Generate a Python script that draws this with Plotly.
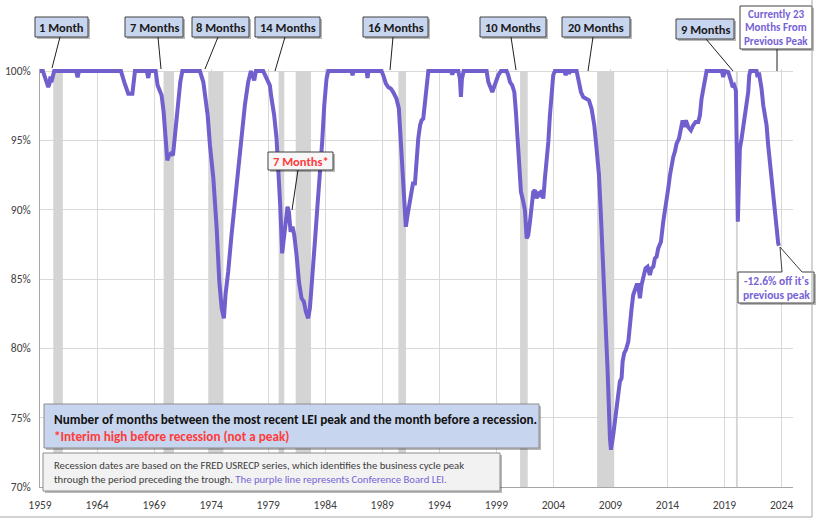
import plotly.graph_objects as go
from datetime import datetime, timedelta

# ---------------- data ----------------
# LEI as % of its previous peak, x in decimal years
lei_year = [
    1959.08, 1959.34, 1959.5, 1959.65, 1959.81, 1959.92, 1960.0, 1960.08, 1960.2, 1960.33,
    1962.25, 1962.38, 1962.5,
    1966.18, 1966.47, 1966.68, 1966.82, 1967.18, 1967.3, 1967.41,
    1968.45, 1968.57, 1968.68,
    1969.22, 1969.39, 1969.58, 1969.74, 1969.92, 1970.09, 1970.24, 1970.39, 1970.56, 1970.74,
    1970.91, 1971.15, 1971.38, 1971.56,
    1973.1, 1973.4, 1973.6, 1973.78, 1973.98, 1974.28, 1974.57, 1974.8, 1975.01, 1975.2,
    1975.36, 1975.58, 1975.87, 1976.17, 1976.46, 1976.75, 1977.04, 1977.33, 1977.57,
    1977.86, 1978.01, 1978.65, 1978.85, 1979.03, 1979.23, 1979.38, 1979.61, 1979.82, 1979.96,
    1980.14, 1980.31, 1980.49, 1980.64, 1980.78, 1980.9, 1981.05, 1981.22, 1981.37, 1981.57,
    1981.78, 1982.01, 1982.21, 1982.39, 1982.59, 1982.74, 1982.94, 1983.18, 1983.41, 1983.62,
    1983.82, 1984.0, 1984.2, 1984.35,
    1986.39, 1986.48, 1986.57, 1987.71, 1987.79, 1987.88,
    1989.02, 1989.17, 1989.4, 1989.6, 1989.84, 1990.04, 1990.33, 1990.54, 1990.71, 1990.86,
    1991.01, 1991.15, 1991.3, 1991.45, 1991.59, 1991.8, 1991.94,
    1992.1, 1992.24, 1992.4, 1992.53, 1992.68, 1992.83, 1992.97, 1993.12,
    1995.1, 1995.22, 1995.35, 1995.75, 1995.89, 1995.98, 1996.07, 1996.22,
    1998.23, 1998.38, 1998.73, 1998.96, 1999.25, 1999.49,
    1999.98, 2000.13, 2000.28, 2000.48, 2000.66, 2000.8, 2000.95, 2001.09, 2001.24, 2001.45,
    2001.59, 2001.74, 2001.88, 2002.03, 2002.17, 2002.32, 2002.47, 2002.61, 2002.76, 2002.91,
    2003.05, 2003.2, 2003.34, 2003.49, 2003.64, 2003.78, 2003.93, 2004.07, 2004.22,
    2005.04, 2005.16, 2005.28, 2005.38, 2005.45, 2005.52,
    2006.12, 2006.32, 2006.5, 2006.7, 2006.99, 2007.2, 2007.43, 2007.67, 2007.87, 2008.08,
    2008.25, 2008.46, 2008.66, 2008.84, 2009.04, 2009.13,
    2009.33, 2009.53, 2009.77, 2009.91, 2010.06, 2010.15, 2010.29, 2010.44, 2010.65, 2010.79,
    2010.94, 2011.08, 2011.23, 2011.38, 2011.52, 2011.67, 2011.81, 2011.96, 2012.16, 2012.34,
    2012.54, 2012.69, 2012.84, 2012.98, 2013.13, 2013.27, 2013.51, 2013.71, 2013.86, 2014.0,
    2014.15, 2014.3, 2014.44, 2014.59, 2014.73, 2014.88, 2015.09, 2015.26, 2015.41, 2015.55,
    2015.7, 2015.9, 2016.14, 2016.34, 2016.55, 2016.78, 2016.93, 2017.07, 2017.22, 2017.36,
    2017.51,
    2018.85, 2018.97, 2019.12, 2019.41, 2019.64, 2019.79, 2019.93, 2020.08, 2020.25,
    2020.34, 2020.43, 2020.58, 2020.72, 2020.87, 2021.02, 2021.16, 2021.25, 2021.34,
    2021.89, 2021.98, 2022.1, 2022.22, 2022.33, 2022.48, 2022.62, 2022.77, 2022.91, 2023.06,
    2023.21, 2023.35, 2023.5, 2023.64, 2023.79, 2023.85,
]
lei_pct = [
    100, 100, 99.6, 99.2, 98.85, 99.1, 99.6, 99.2, 99.5, 100,
    100, 99.55, 100,
    100, 99.2, 98.7, 98.37, 98.37, 99.2, 100,
    100, 99.5, 100,
    100, 98.97, 98.61, 98.25, 97.05, 95.13, 93.57, 93.93, 94.05, 93.93,
    95.37, 97.53, 99.21, 100,
    100, 99.21, 98.01, 96.81, 94.65, 92.25, 88.65, 84.81, 82.89, 82.17,
    84.0, 85.53, 88.17, 90.57, 92.97, 94.89, 97.53, 99.21, 100,
    99.33, 100, 100, 99.69, 99.33, 98.97, 98.01, 96.81, 95.13, 93.21,
    90.33, 86.85, 88.41, 89.61, 90.21, 89.85, 88.41, 88.77, 88.17, 86.73,
    84.81, 83.61, 83.37, 82.65, 82.17, 82.89, 84.81, 87.69, 90.33, 92.49,
    94.89, 97.53, 99.45, 100,
    100, 99.7, 100, 100, 99.5, 100,
    100, 99.69, 99.09, 98.85, 98.73, 98.49, 98.01, 97.29, 94.89, 92.01,
    89.85, 88.77, 89.61, 90.33, 91.05, 92.01, 91.77,
    93.8, 95.13, 96.1, 96.45, 96.57, 98.01, 99.21, 100,
    100, 99.75, 100, 100, 99.45, 98.13, 99.45, 100,
    100, 99.21, 98.49, 98.97, 99.7, 100,
    100, 99.7, 99.21, 98.97, 98.49, 97.05, 94.89, 93.21, 91.29, 90.57,
    89.97, 87.93, 88.17, 89.13, 90.33, 91.29, 91.41, 90.81, 91.29, 90.93,
    91.41, 90.81, 92.25, 93.45, 94.89, 96.81, 98.49, 99.7, 100,
    100, 99.7, 100, 100, 99.8, 100,
    100, 99.21, 98.49, 98.13, 98.01, 97.89, 97.29, 96.09, 94.41, 92.49,
    89.61, 86.01, 82.41, 78.33, 73.53, 72.69,
    73.77, 75.21, 76.65, 77.61, 77.85, 79.05, 79.65, 79.89, 80.49, 81.93,
    82.89, 83.85, 84.33, 84.57, 84.57, 83.61, 84.57, 85.05, 85.77, 85.89,
    85.29, 85.77, 85.89, 86.49, 86.61, 87.21, 87.69, 89.13, 89.85, 90.57,
    91.53, 92.49, 93.21, 93.81, 94.17, 94.77, 95.13, 95.73, 96.45, 95.97,
    96.45, 95.97, 95.73, 96.09, 96.33, 96.33, 96.81, 98.01, 98.73, 99.45,
    100,
    100, 99.57, 100, 99.93, 99.33, 98.85, 98.97, 98.6, 89.13,
    92.73, 94.41, 95.13, 95.85, 96.57, 97.53, 98.49, 99.7, 100,
    100, 99.57, 99.9, 99.45, 98.73, 97.53, 96.81, 96.09, 94.65, 93.45,
    92.01, 90.57, 89.61, 88.89, 87.57, 87.4,
]

# NBER recessions (peak month -> trough month, USRECP)
rec_start = ["1960-04-01", "1969-12-01", "1973-11-01", "1980-01-01", "1981-07-01",
             "1990-07-01", "2001-03-01", "2007-12-01", "2020-02-01"]
rec_end = ["1961-02-01", "1970-11-01", "1975-03-01", "1980-07-01", "1982-11-01",
           "1991-03-01", "2001-11-01", "2009-06-01", "2020-04-01"]

tick_years = list(range(1959, 2025, 5))
y_ticks = [70, 75, 80, 85, 90, 95, 100]

top_labels = ["1 Month", "7 Months", "8 Months", "14 Months", "16 Months",
              "10 Months", "20 Months", "9 Months"]

# ---------------- helpers ----------------
def dec2date(t):
    y = int(t)
    return datetime(y, 1, 1) + timedelta(days=(t - y) * 365.25)

L, R, T, B = 40, 793, 69, 487
W, H = 816, 520

def fx(px):
    return (px - L) / (R - L)

def fy(py):
    return (B - py) / (B - T)

FONT = "Carlito, Calibri, Lato, sans-serif"
PURPLE = "#7060CE"
TXT_PURPLE = "#7763D6"
RED = "#FF3B3B"

fig = go.Figure()
fig.add_trace(go.Scatter(
    x=[dec2date(t) for t in lei_year], y=lei_pct, mode="lines",
    line=dict(color=PURPLE, width=4), hoverinfo="skip", showlegend=False))

shapes = []
for s, e in zip(rec_start, rec_end):
    shapes.append(dict(type="rect", xref="x", yref="y", x0=s, x1=e, y0=70, y1=100,
                       fillcolor="#D4D4D4", line=dict(width=0), layer="between"))

annotations = []

def box(x0, x1, y0, y1, fill, border="#404040", shadow=True):
    if shadow:
        shapes.append(dict(type="rect", xref="paper", yref="paper",
                           x0=fx(x0 + 2), x1=fx(x1 + 2), y0=fy(y1 + 2), y1=fy(y0 + 2),
                           fillcolor="rgba(0,0,0,0.28)", line=dict(width=0), layer="above"))
    shapes.append(dict(type="rect", xref="paper", yref="paper",
                       x0=fx(x0), x1=fx(x1), y0=fy(y1), y1=fy(y0),
                       fillcolor=fill, line=dict(color=border, width=1), layer="above"))

def leader(xa, ya, xb, yb, color="#202020"):
    shapes.append(dict(type="line", xref="paper", yref="paper",
                       x0=fx(xa), y0=fy(ya), x1=fx(xb), y1=fy(yb),
                       line=dict(color=color, width=1), layer="above"))

def text(xc, yc, s, size, color, bold=True, anchor="center"):
    annotations.append(dict(xref="paper", yref="paper", x=fx(xc), y=fy(yc),
                            text=f"<b>{s}</b>" if bold else s, showarrow=False,
                            xanchor=anchor, yanchor="middle", align=anchor if anchor != "center" else "center",
                            font=dict(family=FONT, size=size, color=color)))

BLUE = "#C8D5EE"
top_boxes = [(35, 88, 17, 37), (125, 183, 17, 37), (192, 249, 17, 37), (255, 320, 17, 37),
             (363, 428, 17, 37), (480, 546, 17, 37), (562, 630, 17, 37), (676, 734, 19, 39)]
leaders = [((60, 37), (52, 68)), ((158, 37), (161, 69)), ((218, 37), (205, 69)),
           ((285, 37), (275, 71)), ((393, 37), (390, 70)), ((511, 37), (516, 70)),
           ((593, 37), (588, 71)), ((706, 39), (733, 71))]
for lab, (x0, x1, y0, y1), (a, b) in zip(top_labels, top_boxes, leaders):
    leader(a[0], a[1], b[0], b[1])
    box(x0, x1, y0, y1, BLUE)
    text((x0 + x1) / 2, (y0 + y1) / 2 + 0.5, lab, 12.5, "#1A1A1A")

# Currently 23 months box
leader(777, 49, 777, 71)
box(740, 812, 6, 49, "#FFFFFF")
text(776, 14, "Currently 23", 11, TXT_PURPLE)
text(776, 27.5, "Months From", 11, TXT_PURPLE)
text(776, 41, "Previous Peak", 11, TXT_PURPLE)

# 7 Months* box
leader(298, 170, 292, 210)
box(268, 333, 152, 170, "#F7F7F7")
text(300.5, 161.5, "7 Months*", 12.5, RED)

# -12.6% callout with pointer
def path(pts):
    return "M " + " L ".join(f"{fx(px)},{fy(py)}" for px, py in pts) + " Z"
pts = [(738, 272), (782, 272), (780, 247), (802, 272), (814, 272), (814, 303), (738, 303)]
shapes.append(dict(type="path", xref="paper", yref="paper",
                   path=path([(px + 2, py + 2) for px, py in pts]),
                   fillcolor="rgba(0,0,0,0.28)", line=dict(width=0), layer="above"))
shapes.append(dict(type="path", xref="paper", yref="paper", path=path(pts),
                   fillcolor="#FFFFFF", line=dict(color="#404040", width=1), layer="above"))
text(776, 281, "-12.6% off it's", 11.5, TXT_PURPLE)
text(776, 295, "previous peak", 11.5, TXT_PURPLE)

# bottom explanation boxes
box(44, 539, 404, 448, BLUE, border="#8C8C8C")
text(52, 419, "Number of months between the most recent LEI peak and the month before a recession.",
     13.2, "#111111", anchor="left")
text(52, 436, "*Interim high before recession (not a peak)", 13.2, RED, anchor="left")

box(43, 500, 453, 491, "#F2F2F2", border="#8C8C8C")
text(52, 465, "Recession dates are based on the FRED USRECP series, which identifies the business cycle peak",
     10.7, "#404040", bold=False, anchor="left")
annotations.append(dict(xref="paper", yref="paper", x=fx(52), y=fy(479),
                        text="through the period preceding the trough. "
                             f"<span style='color:{TXT_PURPLE}'>The purple line represents Conference Board LEI.</span>",
                        showarrow=False, xanchor="left", yanchor="middle", align="left",
                        font=dict(family=FONT, size=10.7, color="#404040")))

# outer frame (right and bottom)
shapes.append(dict(type="line", xref="paper", yref="paper", x0=fx(812), x1=fx(812),
                   y0=fy(0), y1=fy(517), line=dict(color="#A6A6A6", width=1), layer="above"))
shapes.append(dict(type="line", xref="paper", yref="paper", x0=fx(0), x1=fx(812),
                   y0=fy(517), y1=fy(517), line=dict(color="#A6A6A6", width=1), layer="above"))

fig.update_layout(
    width=W, height=H, margin=dict(l=L, r=W - R, t=T, b=H - B),
    paper_bgcolor="white", plot_bgcolor="white",
    font=dict(family=FONT, size=11, color="#595959"),
    shapes=shapes, annotations=annotations, showlegend=False,
    xaxis=dict(type="date", range=["1959-02-01", "2025-02-01"],
               tickvals=[f"{y}-02-01" for y in tick_years], ticktext=[str(y) for y in tick_years],
               showgrid=True, gridcolor="#D9D9D9", gridwidth=1,
               showline=True, linecolor="#A6A6A6", linewidth=1, ticks="",
               ticklabelstandoff=7, automargin=False,
               tickfont=dict(family=FONT, size=11.5, color="#404040"), zeroline=False),
    yaxis=dict(range=[70, 100.15], tickvals=y_ticks, ticktext=[f"{v}%" for v in y_ticks],
               showgrid=True, gridcolor="#D9D9D9", gridwidth=1,
               showline=True, linecolor="#A6A6A6", linewidth=1, ticks="",
               ticklabelstandoff=6, automargin=False,
               tickfont=dict(family=FONT, size=11.5, color="#404040"), zeroline=False),
)

fig.write_html("out.html")
